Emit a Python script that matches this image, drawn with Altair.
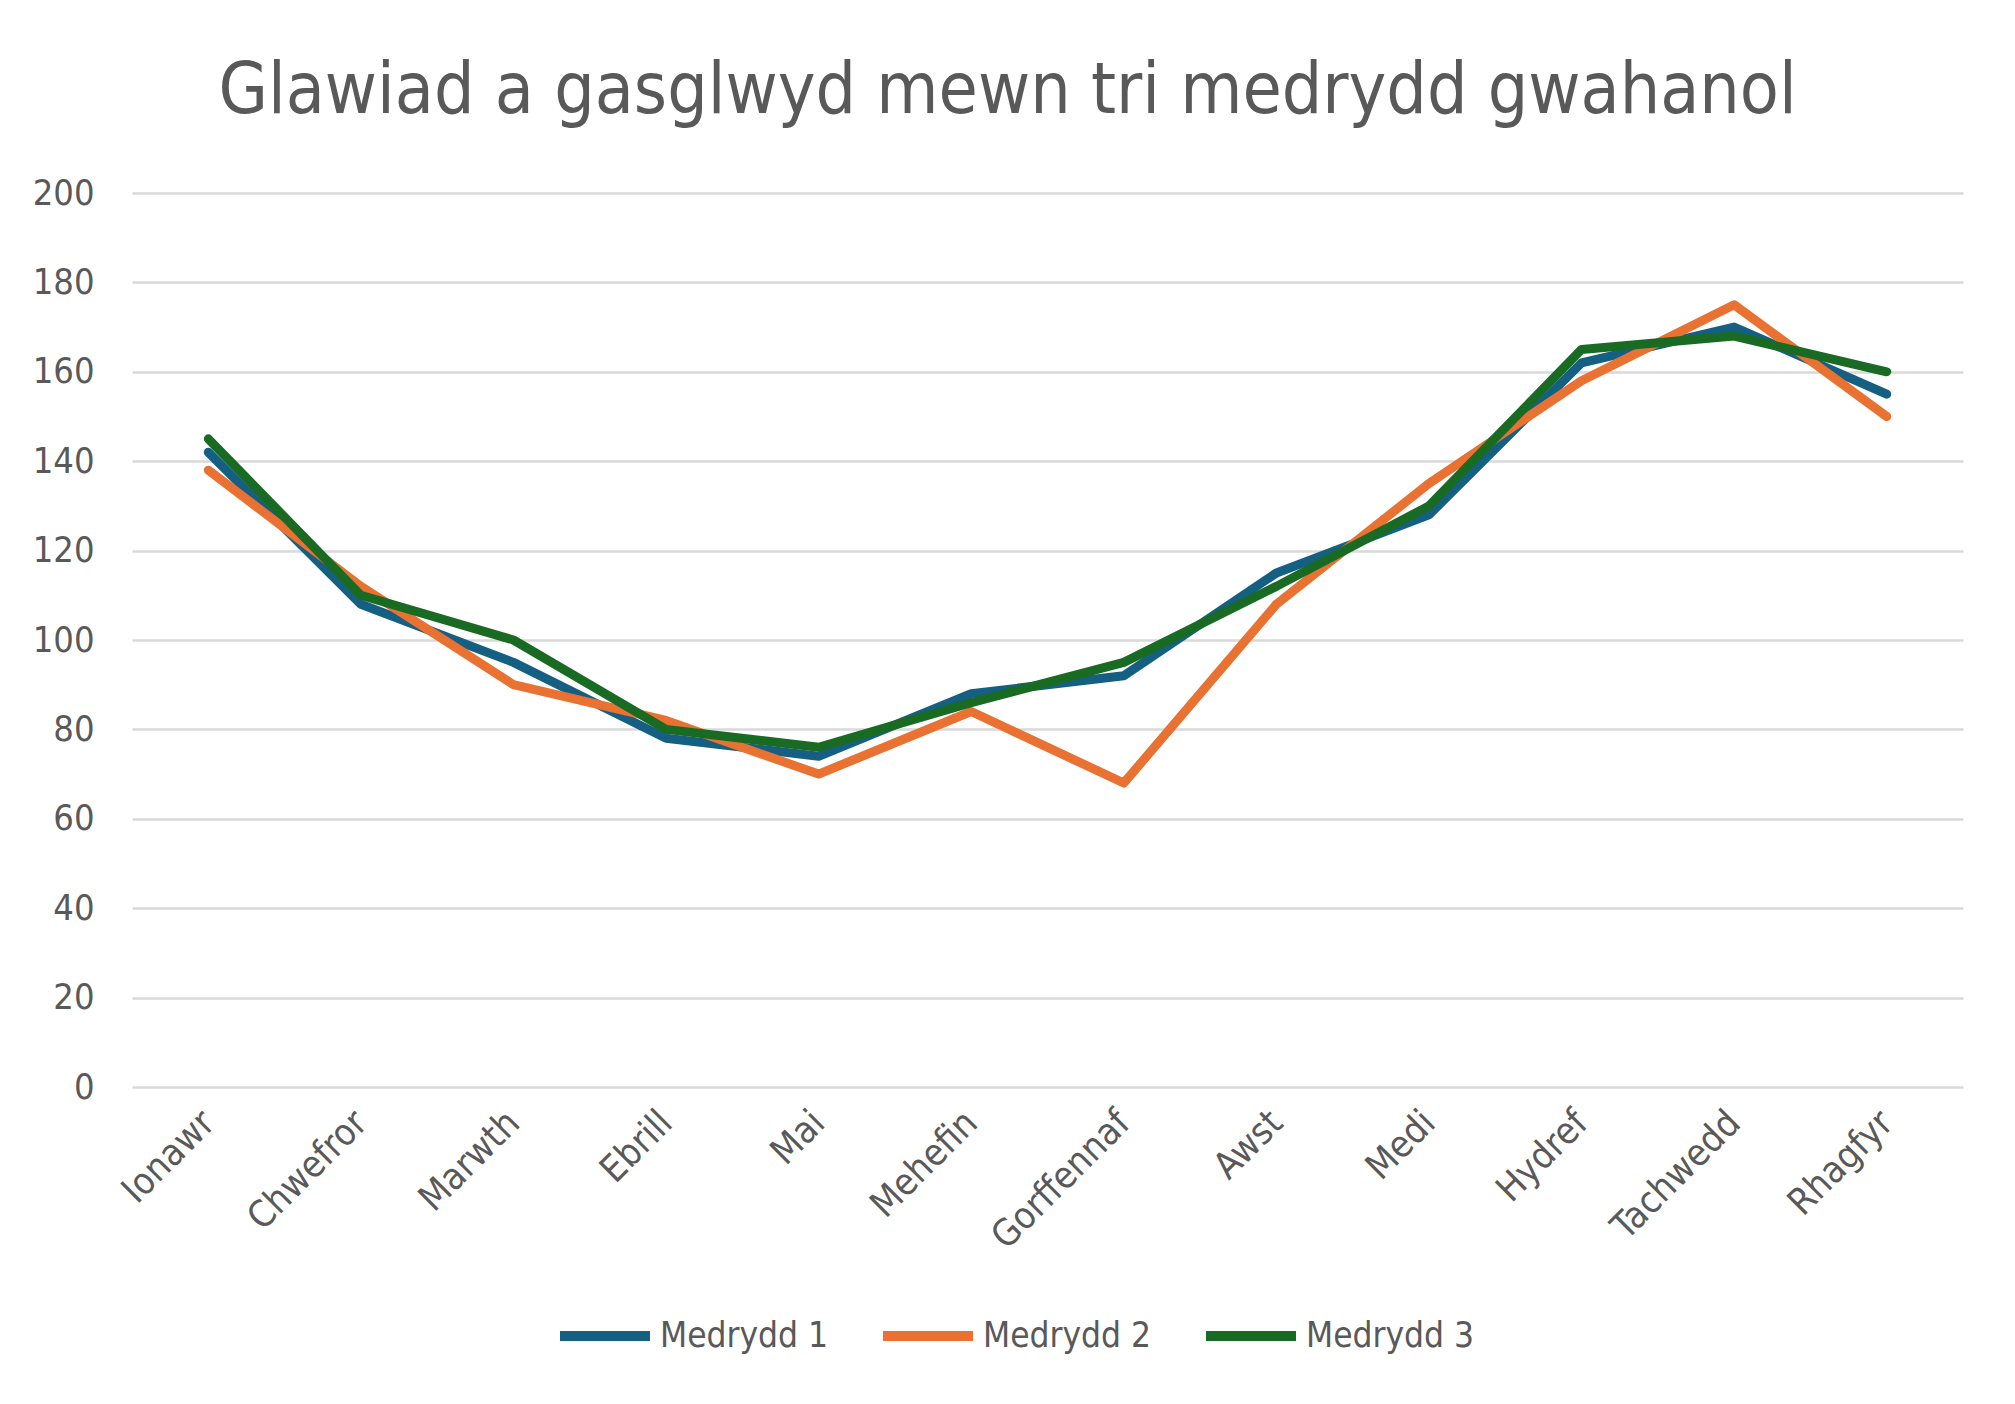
import pandas as pd
import altair as alt

# ================== DATA ==================

months = [
    "Ionawr", "Chwefror", "Marwth", "Ebrill", "Mai", "Mehefin",
    "Gorffennaf", "Awst", "Medi", "Hydref", "Tachwedd", "Rhagfyr",
]
medrydd_1 = [142, 108, 95, 78, 74, 88, 92, 115, 128, 162, 170, 155]
medrydd_2 = [138, 112, 90, 82, 70, 84, 68, 108, 135, 158, 175, 150]
medrydd_3 = [145, 110, 100, 80, 76, 86, 95, 112, 130, 165, 168, 160]

series_names = ["Medrydd 1", "Medrydd 2", "Medrydd 3"]
series_colors = ["#156082", "#E97132", "#196B24"]
y_ticks = [0, 20, 40, 60, 80, 100, 120, 140, 160, 180, 200]

# ================== STYLES ==================

FONT = "Liberation Sans Narrow, DejaVu Sans Condensed, Liberation Sans, sans-serif"
TEXT_COLOR = "#595959"

df = pd.DataFrame({"month": months, "Medrydd 1": medrydd_1,
                   "Medrydd 2": medrydd_2, "Medrydd 3": medrydd_3})
long_df = df.melt(id_vars="month", var_name="series", value_name="rain")

chart = (
    alt.Chart(long_df)
    .mark_line(strokeWidth=9, strokeCap="round", strokeJoin="round")
    .encode(
        x=alt.X(
            "month:N",
            sort=months,
            scale=alt.Scale(type="point", padding=0.5),
            axis=alt.Axis(
                title=None,
                labelAngle=-45,
                labelAlign="right",
                labelBaseline="middle",
                labelPadding=30,
                labelFontSize=37,
                labelLimit=400,
                labelColor=TEXT_COLOR,
                labelFont=FONT,
                domain=False,
                ticks=False,
                grid=False,
            ),
        ),
        y=alt.Y(
            "rain:Q",
            scale=alt.Scale(domain=[0, 200], nice=False),
            axis=alt.Axis(
                title=None,
                values=y_ticks,
                labelFontSize=36,
                labelColor=TEXT_COLOR,
                labelFont=FONT,
                labelPadding=38,
                domain=False,
                ticks=False,
                grid=True,
                gridColor="#D9D9D9",
                gridWidth=2.5,
            ),
        ),
        color=alt.Color(
            "series:N",
            scale=alt.Scale(domain=series_names, range=series_colors),
            legend=alt.Legend(
                title=None,
                orient="none",
                direction="horizontal",
                legendX=423,
                legendY=1093,
                symbolType="stroke",
                symbolSize=8100,
                symbolStrokeWidth=10,
                labelFontSize=35,
                labelLimit=400,
                labelColor=TEXT_COLOR,
                labelFont=FONT,
                labelOffset=5,
                columnPadding=34,
            ),
        ),
    )
    .properties(
        width=1831,
        height=894,
        autosize=alt.AutoSizeParams(type="none"),
        padding={"left": 124, "top": 185, "right": 44, "bottom": 309},
        title=alt.TitleParams(
            "Glawiad a gasglwyd mewn tri medrydd gwahanol",
            fontSize=71,
            font=FONT,
            fontWeight="normal",
            color=TEXT_COLOR,
            anchor="middle",
            dx=-40,
            offset=47,
        ),
    )
    .configure(background="white")
    .configure_view(stroke=None)
)

chart.save("out.html", embed_options={"renderer": "svg", "actions": False})
